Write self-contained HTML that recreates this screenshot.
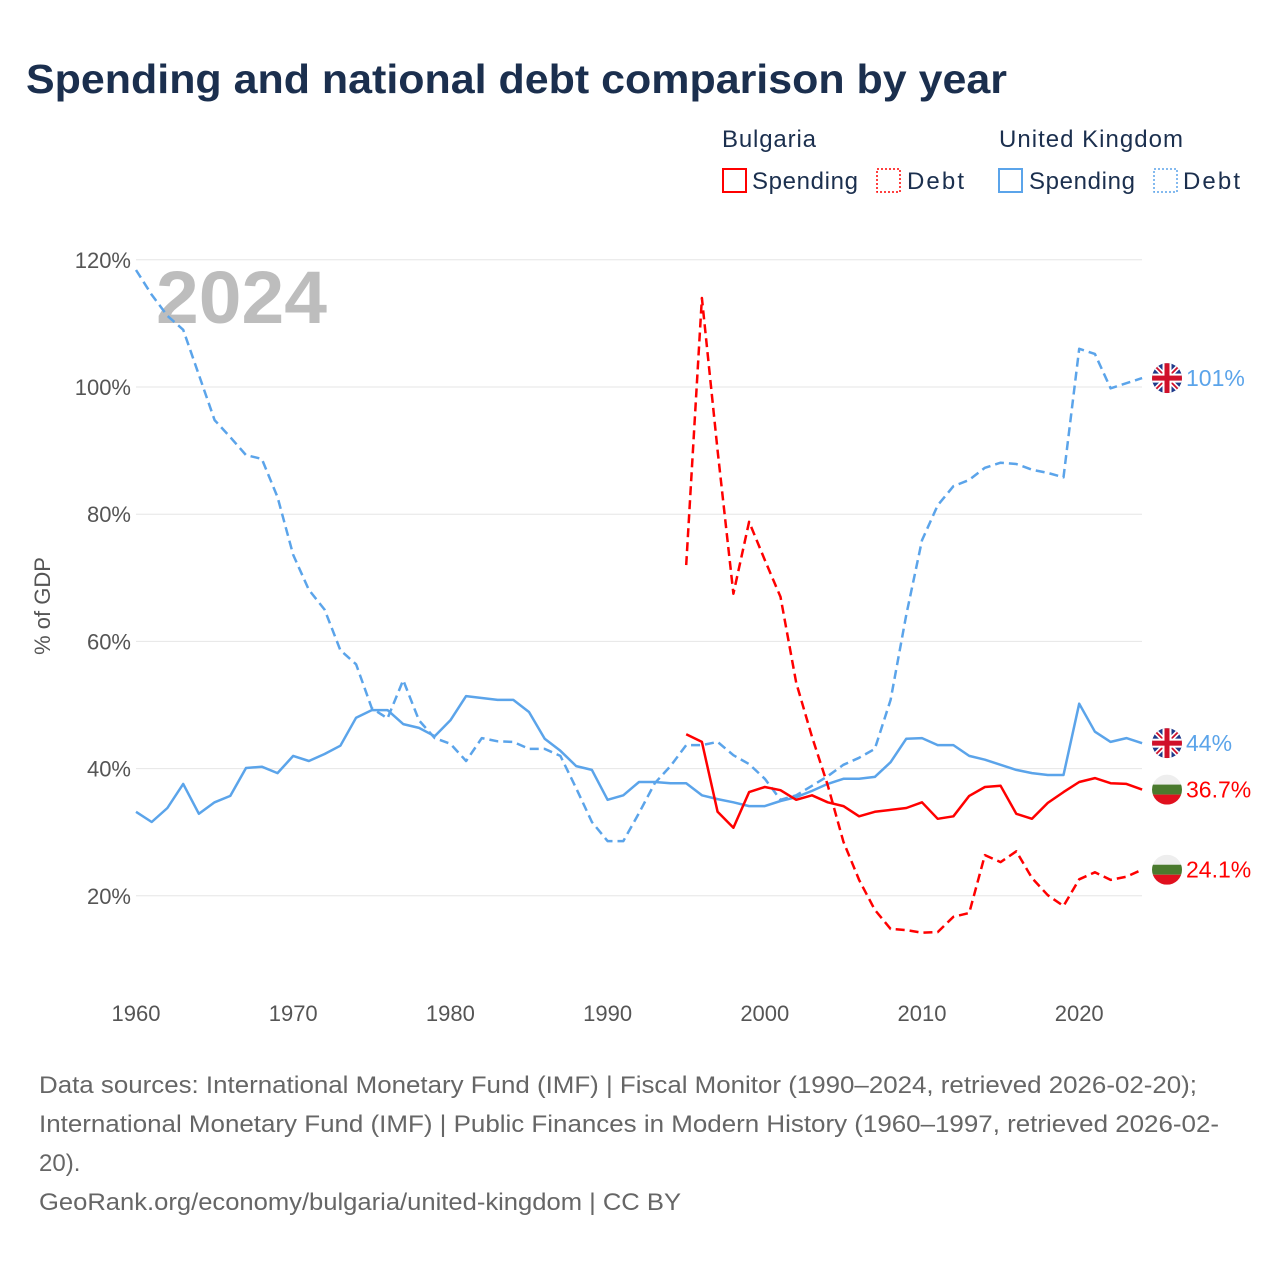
<!DOCTYPE html>
<html><head><meta charset="utf-8">
<style>
body{margin:0;background:#fff;width:1280px;height:1280px;overflow:hidden;font-family:"Liberation Sans",sans-serif;}
svg text{font-family:"Liberation Sans",sans-serif;}
</style></head>
<body>
<svg id="chart" width="1280" height="1280" xmlns="http://www.w3.org/2000/svg">
<text x="26" y="93" font-size="41" font-weight="bold" fill="#1b2f4e" textLength="981" lengthAdjust="spacingAndGlyphs">Spending and national debt comparison by year</text>
<g>
<text x="722" y="147" font-size="24" fill="#1b2f4e" textLength="94">Bulgaria</text>
<text x="999" y="147" font-size="24" fill="#1b2f4e" textLength="184">United Kingdom</text>
<g><rect x="723" y="169" width="23" height="23" fill="none" stroke="#f00" stroke-width="2"/><text x="752" y="189" font-size="24" fill="#1b2f4e" textLength="106">Spending</text></g>
<g><rect x="877" y="169" width="23" height="23" fill="none" stroke="#f00" stroke-width="1.5" stroke-dasharray="2,2"/><text x="907" y="189" font-size="24" fill="#1b2f4e" textLength="57">Debt</text></g>
<g><rect x="999" y="169" width="23" height="23" fill="none" stroke="#5ba4ea" stroke-width="2"/><text x="1029" y="189" font-size="24" fill="#1b2f4e" textLength="106">Spending</text></g>
<g><rect x="1154" y="169" width="23" height="23" fill="none" stroke="#5ba4ea" stroke-width="1.5" stroke-dasharray="2,2"/><text x="1183" y="189" font-size="24" fill="#1b2f4e" textLength="57">Debt</text></g>
</g>
<g id="grid"></g>
<g id="yticks"></g>
<g id="xticks"></g>
<text x="0" y="0" transform="translate(50,606) rotate(-90)" text-anchor="middle" font-size="22" fill="#555">% of GDP</text>
<text x="156" y="323" font-size="74" font-weight="bold" fill="#bdbdbd" textLength="171" lengthAdjust="spacingAndGlyphs">2024</text>
<g id="series"></g>
<g id="ends"></g>
<g font-size="24" fill="#666">
<text x="39" y="1093" textLength="1158" lengthAdjust="spacingAndGlyphs">Data sources: International Monetary Fund (IMF) | Fiscal Monitor (1990–2024, retrieved 2026-02-20);</text>
<text x="39" y="1132" textLength="1180" lengthAdjust="spacingAndGlyphs">International Monetary Fund (IMF) | Public Finances in Modern History (1960–1997, retrieved 2026-02-</text>
<text x="39" y="1171">20).</text>
<text x="39" y="1210" textLength="642" lengthAdjust="spacingAndGlyphs">GeoRank.org/economy/bulgaria/united-kingdom | CC BY</text>
</g>
</svg>
<script>
const ukStart = 1960;
const ukSpending = [33.2,31.6,33.8,37.6,32.9,34.7,35.7,40.1,40.3,39.3,42,41.2,42.3,43.6,48,49.2,49.2,47,46.4,45.1,47.6,51.4,51.1,50.8,50.8,48.9,44.7,42.8,40.4,39.8,35.1,35.8,37.9,37.9,37.7,37.7,35.8,35.2,34.7,34.1,34.1,34.9,35.5,36.5,37.6,38.4,38.4,38.7,41,44.7,44.8,43.7,43.7,42,41.4,40.6,39.8,39.3,39,39,50.2,45.8,44.2,44.8,44];
const ukDebt = [118.4,114.5,111.2,109,101.9,94.8,92.1,89.3,88.7,82.7,73.6,68.1,65,58.6,56.4,49.5,47.9,53.9,47.6,44.8,43.9,41.2,44.8,44.3,44.2,43.1,43.1,42,36.9,31.6,28.6,28.6,33,37.7,40.4,43.7,43.7,44.2,42.1,40.7,38.4,35.1,35.8,37.3,38.8,40.6,41.7,43.1,50.8,64.2,75.9,81.4,84.4,85.4,87.3,88.1,87.9,87,86.5,85.8,106,105.2,99.8,100.6,101.4];
const bgStart = 1995;
const bgSpending = [45.4,44.2,33.2,30.7,36.3,37.1,36.6,35.1,35.8,34.7,34.1,32.5,33.2,33.5,33.8,34.7,32.1,32.5,35.7,37.1,37.3,32.9,32.1,34.6,36.3,37.9,38.5,37.7,37.6,36.7];
const bgDebt = [72,114,90,67.5,78.8,72.8,67,53.5,45,37.4,28.5,22.5,17.8,14.8,14.6,14.2,14.3,16.7,17.3,26.4,25.3,27,22.8,20.1,18.4,22.6,23.7,22.5,23,24.1];
const yTicks = [20,40,60,80,100,120];
const xTicks = [1960,1970,1980,1990,2000,2010,2020];

const NS="http://www.w3.org/2000/svg";
const xS = yr => 136 + (yr-1960)*15.72;
const yS = v => 1023 - v*6.36;
function mk(tag, attrs, parent){const e=document.createElementNS(NS,tag);for(const k in attrs)e.setAttribute(k,attrs[k]);parent.appendChild(e);return e;}
const grid=document.getElementById('grid'), yt=document.getElementById('yticks'), xt=document.getElementById('xticks');
yTicks.forEach(v=>{
  const l=mk('line',{x1:136,x2:1142,y1:yS(v),y2:yS(v),stroke:'#e6e6e6','stroke-width':1},grid);
  
  
  const t=mk('text',{x:131,y:yS(v)+8,'text-anchor':'end','font-size':22,fill:'#555'},yt);
  t.textContent=v+'%';
  
  
});
xTicks.forEach(y=>{
  const t=mk('text',{x:xS(y),y:1021,'text-anchor':'middle','font-size':22,fill:'#555'},xt);
  t.textContent=y;
  
  
});
const ser=document.getElementById('series');
function line(arr,start,color,dash,name){
  const d=arr.map((v,i)=>(i?'L':'M')+xS(start+i).toFixed(1)+','+yS(v).toFixed(1)).join(' ');
  const p=mk('path',{d:d,fill:'none',stroke:color,'stroke-width':2.5,'stroke-linejoin':'round'},ser);
  if(dash)p.setAttribute('stroke-dasharray','9,5');
  
  
}
line(ukDebt,ukStart,'#5ba4ea',true,'uk-debt-line');
line(ukSpending,ukStart,'#5ba4ea',false,'uk-spending-line');
line(bgDebt,bgStart,'#f00',true,'bulgaria-debt-line');
line(bgSpending,bgStart,'#f00',false,'bulgaria-spending-line');

const ends=document.getElementById('ends');
function ukFlag(cy,g){
  const cx=1167,r=15;
  const cid='c'+Math.round(cy);
  const cp=mk('clipPath',{id:cid},g);mk('circle',{cx:cx,cy:cy,r:r},cp);
  const f=mk('g',{'clip-path':'url(#'+cid+')'},g);
  mk('rect',{x:cx-r,y:cy-r,width:2*r,height:2*r,fill:'#1f3a8a'},f);
  mk('path',{d:`M${cx-r},${cy-r}L${cx+r},${cy+r}M${cx+r},${cy-r}L${cx-r},${cy+r}`,stroke:'#fff','stroke-width':5},f);
  mk('path',{d:`M${cx-r},${cy-r}L${cx+r},${cy+r}M${cx+r},${cy-r}L${cx-r},${cy+r}`,stroke:'#d0102a','stroke-width':1.8},f);
  mk('rect',{x:cx-r,y:cy-4.5,width:2*r,height:9,fill:'#fff'},f);
  mk('rect',{x:cx-4.5,y:cy-r,width:9,height:2*r,fill:'#fff'},f);
  mk('rect',{x:cx-r,y:cy-2.5,width:2*r,height:5,fill:'#d0102a'},f);
  mk('rect',{x:cx-2.5,y:cy-r,width:5,height:2*r,fill:'#d0102a'},f);
}
function bgFlag(cy,g){
  const cx=1167,r=15;
  const cid='b'+Math.round(cy);
  const cp=mk('clipPath',{id:cid},g);mk('circle',{cx:cx,cy:cy,r:r},cp);
  const f=mk('g',{'clip-path':'url(#'+cid+')'},g);
  mk('rect',{x:cx-r,y:cy-r,width:2*r,height:10,fill:'#eeeeee'},f);
  mk('rect',{x:cx-r,y:cy-r+10,width:2*r,height:10,fill:'#4a7a2e'},f);
  mk('rect',{x:cx-r,y:cy-r+20,width:2*r,height:10,fill:'#e0101e'},f);
}
function endLabel(v,color,flag,text,name){
  const g=mk('g',{},ends);
  
  
  const cy=yS(v);
  flag(cy,g);
  const t=mk('text',{x:1186,y:cy+8,'font-size':23,fill:color},g);
  t.textContent=text;
}
endLabel(ukDebt[ukDebt.length-1],'#5ba4ea',ukFlag,'101%','end-label-uk-debt');
endLabel(ukSpending[ukSpending.length-1],'#5ba4ea',ukFlag,'44%','end-label-uk-spending');
endLabel(bgSpending[bgSpending.length-1],'#f00',bgFlag,'36.7%','end-label-bulgaria-spending');
endLabel(bgDebt[bgDebt.length-1],'#f00',bgFlag,'24.1%','end-label-bulgaria-debt');
</script>
</body></html>
